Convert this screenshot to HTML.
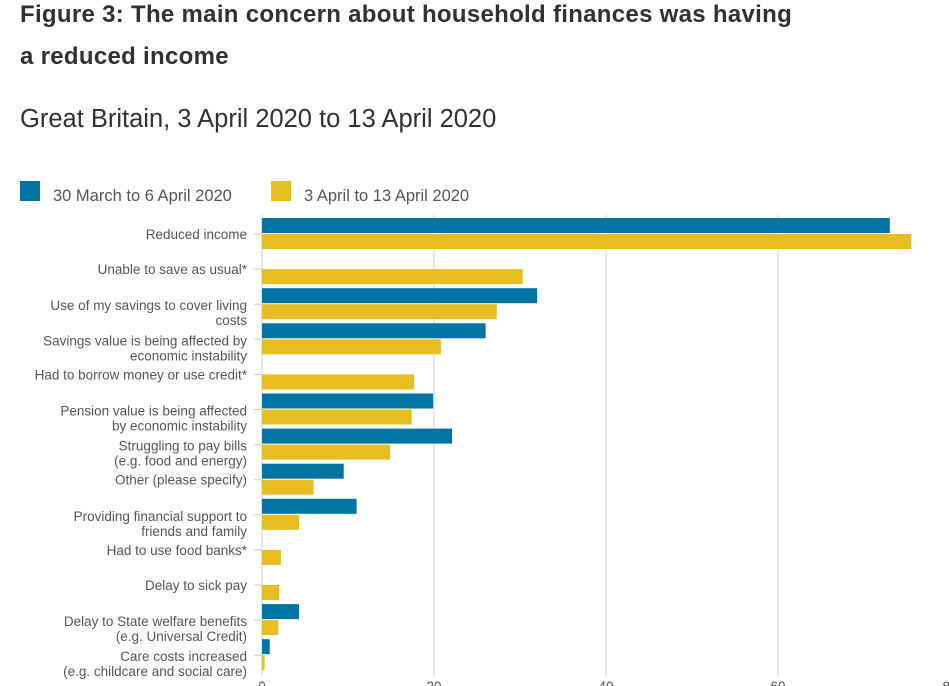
<!DOCTYPE html>
<html><head><meta charset="utf-8"><style>
body{margin:0;width:949px;height:686px;overflow:hidden;background:#fff;font-family:"Liberation Sans",sans-serif;}
h1{position:absolute;left:20px;top:-6px;margin:0;font-size:24px;line-height:42px;font-weight:bold;color:#323132;width:900px;letter-spacing:0.3px}
h2{position:absolute;left:20px;top:105px;margin:0;font-size:25.5px;font-weight:normal;color:#323132}
.leg{position:absolute;top:181px;height:22px;font-size:16.5px;color:#555;line-height:30px}
.sw{position:absolute;top:0;width:20px;height:20px}
</style></head><body>
<h1>Figure 3: The main concern about household finances was having<br>a reduced income</h1>
<h2>Great Britain, 3 April 2020 to 13 April 2020</h2>
<div class="leg" style="left:20px"><div class="sw" style="background:#0075a3"></div><span style="margin-left:33px">30 March to 6 April 2020</span></div>
<div class="leg" style="left:271px"><div class="sw" style="background:#e8bd22"></div><span style="margin-left:33px">3 April to 13 April 2020</span></div>
<svg id="chart" width="949" height="686" style="position:absolute;left:0;top:0"></svg>
<script>
const categories=[["Reduced income"],["Unable to save as usual*"],["Use of my savings to cover living","costs"],["Savings value is being affected by","economic instability"],["Had to borrow money or use credit*"],["Pension value is being affected","by economic instability"],["Struggling to pay bills","(e.g. food and energy)"],["Other (please specify)"],["Providing financial support to","friends and family"],["Had to use food banks*"],["Delay to sick pay"],["Delay to State welfare benefits","(e.g. Universal Credit)"],["Care costs increased","(e.g. childcare and social care)"]];
const series1=[73,null,32,26,null,19.9,22.1,9.5,11,null,null,4.3,0.9];
const series2=[75.5,30.3,27.3,20.8,17.7,17.4,14.9,6,4.3,2.2,2,1.9,0.3];
const ticks=[0,20,40,60,80];
const NS="http://www.w3.org/2000/svg";
const svg=document.getElementById('chart');
const x=v=>262+v*8.6;
const yc=i=>234+i*35.1;
function mk(t,a){const e=document.createElementNS(NS,t);for(const k in a)e.setAttribute(k,a[k]);svg.appendChild(e);return e;}
ticks.forEach(t=>{
  if(t>0){const g=mk('line',{x1:x(t),x2:x(t),y1:215,y2:676,stroke:'#ccc','stroke-width':1});
  
  }
  const l=mk('text',{x:x(t),y:691,'text-anchor':'middle','font-size':13.5,fill:'#555'});l.textContent=t;
  
  
});
const ax=mk('line',{x1:262,x2:262,y1:215,y2:676,stroke:'#ccc','stroke-width':1});


categories.forEach((c,i)=>{
  const y=yc(i);
  const tk=mk('line',{x1:254,x2:262,y1:y,y2:y,stroke:'#ccc','stroke-width':1});
  
  
  const t=mk('text',{x:247,y:y+(c.length>1?6:5),'text-anchor':'end','font-size':13.5,fill:'#555'});
  
  
  c.forEach((s,j)=>{const ts=document.createElementNS(NS,'tspan');ts.setAttribute('x',247);if(j)ts.setAttribute('dy',15);ts.textContent=s;t.appendChild(ts);});
  if(series1[i]!=null){const b=mk('rect',{x:262,y:y-16,width:x(series1[i])-262,height:15,fill:'#0075a3'});
  
  }
  if(series2[i]!=null){const b=mk('rect',{x:262,y:y,width:x(series2[i])-262,height:15,fill:'#e8bd22'});
  
  }
});
</script>
</body></html>
